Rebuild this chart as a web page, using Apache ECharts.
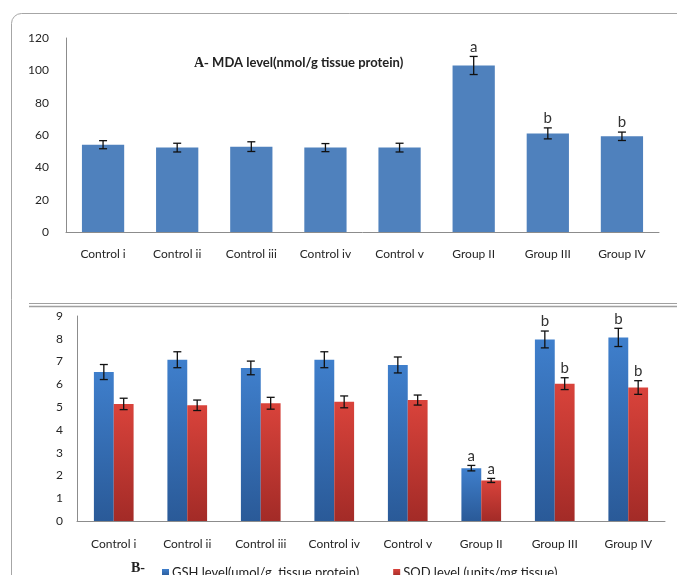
<!DOCTYPE html>
<html>
<head>
<meta charset="utf-8">
<script src="https://cdn.jsdelivr.net/npm/echarts@6/dist/echarts.min.js"></script>
<style>
  html, body { margin: 0; padding: 0; background: #fff; }
  #chart { width: 677px; height: 575px; }
</style>
</head>
<body>
<div id="chart"></div>
<script>
// Groups shared by both panels
const groups = ['Control i', 'Control ii', 'Control iii', 'Control iv', 'Control v', 'Group II', 'Group III', 'Group IV'];

// Panel A: MDA (nmol/g tissue protein)
const mdaMean = [54.0, 52.2, 52.8, 52.2, 52.2, 103.0, 61.0, 59.2];
const mdaErr  = [2.5, 2.7, 3.0, 2.5, 2.7, 5.6, 3.4, 2.6];
const mdaSig  = ['', '', '', '', '', 'a', 'b', 'b'];
const mdaTicks = [0, 20, 40, 60, 80, 100, 120];

// Panel B: GSH (umol/g tissue protein) and SOD (units/mg tissue)
const gshMean = [6.54, 7.08, 6.72, 7.08, 6.85, 2.32, 7.97, 8.06];
const gshErr  = [0.33, 0.35, 0.30, 0.35, 0.35, 0.12, 0.37, 0.40];
const gshSig  = ['', '', '', '', '', 'a', 'b', 'b'];
const sodMean = [5.14, 5.08, 5.17, 5.23, 5.31, 1.78, 6.03, 5.86];
const sodErr  = [0.25, 0.23, 0.26, 0.26, 0.22, 0.09, 0.26, 0.30];
const sodSig  = ['', '', '', '', '', 'a', 'b', 'b'];
const gshTicks = [0, 1, 2, 3, 4, 5, 6, 7, 8, 9];

const FONT = 'Lato, "Open Sans", sans-serif';

// Error bar with cap plus significance letter, offset inside the category band
function errorBars(axisIdx, means, errs, letters, offsetFrac) {
  return {
    type: 'custom',
    xAxisIndex: axisIdx,
    yAxisIndex: axisIdx,
    silent: true,
    z: 10,
    data: means.map((m, i) => [i, m, errs[i]]),
    renderItem(params, api) {
      const i = api.value(0), m = api.value(1), e = api.value(2);
      const band = api.size([1, 0])[0];
      const hi = api.coord([i, m + e]);
      const lo = api.coord([i, m - e]);
      const x = hi[0] + band * offsetFrac;
      const cap = 4;
      const st = { stroke: '#111', lineWidth: 1.3 };
      const children = [
        { type: 'line', shape: { x1: x, y1: hi[1], x2: x, y2: lo[1] }, style: st },
        { type: 'line', shape: { x1: x - cap, y1: hi[1], x2: x + cap, y2: hi[1] }, style: st },
        { type: 'line', shape: { x1: x - cap, y1: lo[1], x2: x + cap, y2: lo[1] }, style: st }
      ];
      const letter = letters[params.dataIndex];
      if (letter) {
        children.push({
          type: 'text',
          style: {
            x: x, y: hi[1] - 2, text: letter,
            fill: '#333', font: '15px ' + FONT,
            textAlign: 'center', textVerticalAlign: 'bottom'
          }
        });
      }
      return { type: 'group', children };
    }
  };
}

function vGrad(top, bottom) {
  return new echarts.graphic.LinearGradient(0, 0, 0, 1, [
    { offset: 0, color: top }, { offset: 1, color: bottom }
  ]);
}

const axisLabelStyle = { color: '#262626', fontSize: 12, fontFamily: FONT };
const axisLineStyle = { lineStyle: { color: '#8c8c8c', width: 1 } };

const chart = echarts.init(document.getElementById('chart'), null, { renderer: 'canvas' });

chart.setOption({
  animation: false,
  backgroundColor: '#fff',
  grid: [
    { left: 66, top: 38, width: 593, height: 194 },
    { left: 77, top: 316, width: 588, height: 205 }
  ],
  xAxis: [
    {
      type: 'category', gridIndex: 0, data: groups,
      axisLine: axisLineStyle, axisTick: { show: false },
      axisLabel: Object.assign({ margin: 16 }, axisLabelStyle)
    },
    {
      type: 'category', gridIndex: 1, data: groups,
      axisLine: axisLineStyle, axisTick: { show: false },
      axisLabel: Object.assign({ margin: 17 }, axisLabelStyle)
    }
  ],
  yAxis: [
    {
      type: 'value', gridIndex: 0,
      min: mdaTicks[0], max: mdaTicks[mdaTicks.length - 1], interval: mdaTicks[1] - mdaTicks[0],
      axisLine: Object.assign({ show: true }, axisLineStyle), axisTick: { show: false },
      splitLine: { show: false },
      axisLabel: Object.assign({ margin: 17 }, axisLabelStyle)
    },
    {
      type: 'value', gridIndex: 1,
      min: gshTicks[0], max: gshTicks[gshTicks.length - 1], interval: gshTicks[1] - gshTicks[0],
      axisLine: Object.assign({ show: true }, axisLineStyle), axisTick: { show: false },
      splitLine: { show: false },
      axisLabel: Object.assign({ margin: 14 }, axisLabelStyle)
    }
  ],
  legend: {
    data: ['GSH level(umol/g  tissue protein)', 'SOD level (units/mg tissue)'],
    left: 157, top: 561,
    itemWidth: 7, itemHeight: 7, itemGap: 34,
    icon: 'rect',
    textStyle: { color: '#222', fontSize: 13, fontFamily: FONT, padding: [0, 0, 0, -2] }
  },
  graphic: [
    // rounded outer frame
    {
      type: 'rect', silent: true, z: -1,
      shape: { x: 11.5, y: 13.5, width: 720, height: 620, r: 10 },
      style: { fill: 'none', stroke: '#a6a6a6', lineWidth: 1 }
    },
    // double separator between panels
    {
      type: 'line', silent: true,
      shape: { x1: 29, y1: 303.5, x2: 677, y2: 303.5 },
      style: { stroke: '#a0a0a0', lineWidth: 1 }
    },
    {
      type: 'line', silent: true,
      shape: { x1: 29, y1: 306.5, x2: 677, y2: 306.5 },
      style: { stroke: '#a0a0a0', lineWidth: 1.5 }
    },
    // panel A title
    {
      type: 'text', silent: true, left: 194, top: 56,
      style: {
        text: '{p|A-} {t|MDA level(nmol/g tissue protein)}',
        rich: {
          p: { font: 'bold 14px "Liberation Serif", serif', fill: '#222' },
          t: { font: 'bold 13px ' + FONT, fill: '#222' }
        }
      }
    },
    // panel B tag
    {
      type: 'text', silent: true, left: 131, top: 561,
      style: { text: 'B-', font: 'bold 14px "Liberation Serif", serif', fill: '#222' }
    }
  ],
  series: [
    {
      name: 'MDA level(nmol/g tissue protein)',
      type: 'bar', xAxisIndex: 0, yAxisIndex: 0,
      data: mdaMean, barWidth: '57%',
      itemStyle: { color: '#4f81bd' }
    },
    errorBars(0, mdaMean, mdaErr, mdaSig, 0),
    {
      name: 'GSH level(umol/g  tissue protein)',
      type: 'bar', xAxisIndex: 1, yAxisIndex: 1,
      data: gshMean, barWidth: '27%', barGap: '0%',
      itemStyle: { color: vGrad('#3f7fcc', '#2a5a98') }
    },
    {
      name: 'SOD level (units/mg tissue)',
      type: 'bar', xAxisIndex: 1, yAxisIndex: 1,
      data: sodMean, barWidth: '27%', barGap: '0%',
      itemStyle: { color: vGrad('#d9433b', '#a32b27') }
    },
    errorBars(1, gshMean, gshErr, gshSig, -0.135),
    errorBars(1, sodMean, sodErr, sodSig, 0.135)
  ]
});
</script>
</body>
</html>
